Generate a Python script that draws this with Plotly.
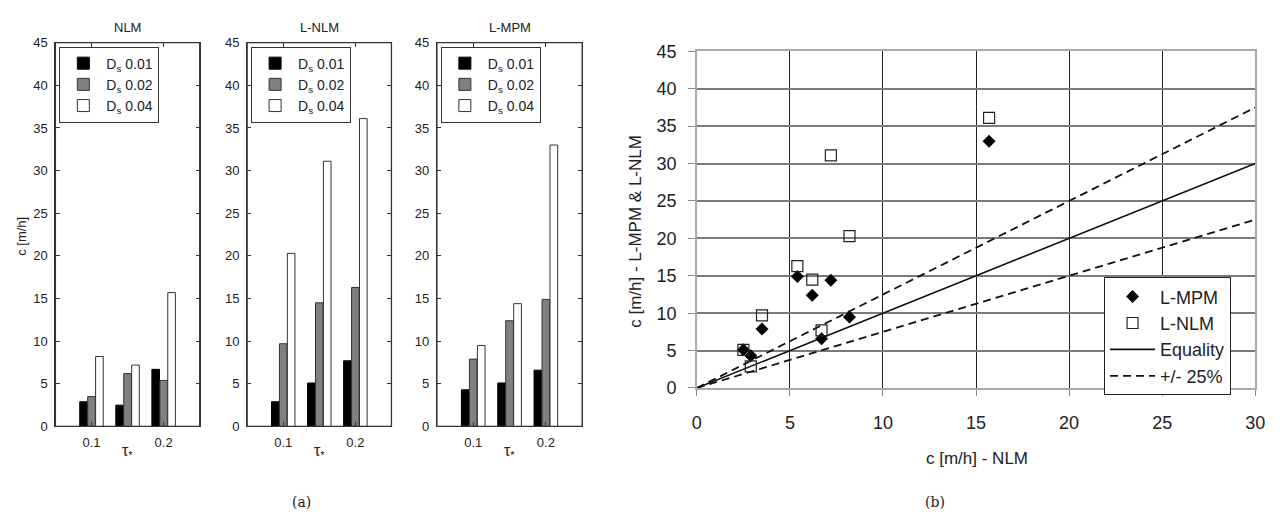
import plotly.graph_objects as go

# Shear stress groups and bar values per model (c in m/h)
tau = [0.1, 0.15, 0.2]
ds_labels = ["D<sub>s</sub> 0.01", "D<sub>s</sub> 0.02", "D<sub>s</sub> 0.04"]

nlm_001 = [2.9, 2.5, 6.7]
nlm_002 = [3.5, 6.2, 5.4]
nlm_004 = [8.2, 7.2, 15.7]

lnlm_001 = [2.9, 5.1, 7.7]
lnlm_002 = [9.7, 14.5, 16.3]
lnlm_004 = [20.3, 31.1, 36.1]

lmpm_001 = [4.3, 5.1, 6.6]
lmpm_002 = [7.9, 12.4, 14.9]
lmpm_004 = [9.5, 14.4, 33.0]

panel_titles = ["NLM", "L-NLM", "L-MPM"]
y_ticks = [0, 5, 10, 15, 20, 25, 30, 35, 40, 45]
x_ticks_b = [0, 5, 10, 15, 20, 25, 30]
ref_x = [0, 30]

W, H = 1287, 524
def px(x):
    return x / W
def py(y):
    return 1 - y / H

FAM = "Liberation Sans"
TXT = "#222"
bar_fill = ["#000000", "#808080", "#ffffff"]
bar_line = ["#000000", "#333333", "#333333"]

panels = [
    (nlm_001, nlm_002, nlm_004),
    (lnlm_001, lnlm_002, lnlm_004),
    (lmpm_001, lmpm_002, lmpm_004),
]
panel_px = [(51, 197), (245, 391), (437, 584)]

fig = go.Figure()
font_l = dict(family=FAM, size=13, color=TXT)
font_r = dict(family=FAM, size=18, color=TXT)

def note(text, x, y, size, angle=0, family=FAM):
    fig.add_annotation(text=text, x=px(x), y=py(y), xref="paper", yref="paper",
                       xanchor="center", yanchor="middle",
                       showarrow=False, textangle=angle,
                       font=dict(family=family, size=size, color=TXT))

legend_names = ["legend", "legend2", "legend3"]
for i, series in enumerate(panels):
    ax = "" if i == 0 else str(i + 1)
    for j, vals in enumerate(series):
        fig.add_trace(go.Bar(
            x=tau, y=vals, name=ds_labels[j],
            marker=dict(color=bar_fill[j], line=dict(color=bar_line[j], width=1)),
            xaxis="x" + ax, yaxis="y" + ax, legend=legend_names[i],
            offsetgroup=str(j),
        ))
    x0, x1 = panel_px[i]
    fig.update_layout(**{
        "xaxis" + ax: dict(
            domain=[px(x0), px(x1)], range=[0.05, 0.25], tickvals=[0.1, 0.2],
            ticktext=["0.1", "0.2"], ticks="inside", ticklen=4, tickcolor="#333",
            showline=True, linecolor="#333", linewidth=1.3, mirror="ticks",
            showgrid=False, zeroline=False, tickfont=font_l, anchor="y" + ax,
            ticklabelstandoff=4,
        ),
        "yaxis" + ax: dict(
            domain=[py(433), py(34)], range=[0, 45], tickvals=y_ticks,
            ticks="inside", ticklen=4, tickcolor="#333",
            showline=True, linecolor="#333", linewidth=1.3, mirror="ticks",
            showgrid=False, zeroline=False, tickfont=font_l, anchor="x" + ax,
            ticklabelstandoff=4,
        ),
        legend_names[i]: dict(
            x=px(x0 + 4), y=py(38), xanchor="left", yanchor="top",
            bgcolor="white", bordercolor="#333", borderwidth=1,
            font=dict(family=FAM, size=14, color=TXT),
            traceorder="normal", itemwidth=36, tracegroupgap=0,
        ),
    })
    # frame around each bar panel
    fig.add_shape(type="rect", xref="x" + ax + " domain", yref="y" + ax + " domain",
                  x0=0, x1=1, y0=0, y1=1, line=dict(color="#333", width=1.3),
                  layer="above")
    note(panel_titles[i], (x0 + x1) / 2, 18, 13)
    note("τ<sub>*</sub>", (x0 + x1) / 2, 459, 16)

note("c [m/h]", 16, 235, 13, angle=-90)

# Comparison panel: NLM on x, linearised models on y
nlm_all = nlm_001 + nlm_002 + nlm_004
lmpm_all = lmpm_001 + lmpm_002 + lmpm_004
lnlm_all = lnlm_001 + lnlm_002 + lnlm_004

dash_style = dict(color="#111", width=1.8, dash="8px,5px")
fig.add_trace(go.Scatter(
    x=ref_x, y=[v * 1.25 for v in ref_x], mode="lines", name="+/- 25%",
    line=dash_style, xaxis="x4", yaxis="y4", legend="legend4", showlegend=False,
))
fig.add_trace(go.Scatter(
    x=ref_x, y=[v * 0.75 for v in ref_x], mode="lines", name="+/- 25%",
    line=dash_style, xaxis="x4", yaxis="y4", legend="legend4", showlegend=False,
))
fig.add_trace(go.Scatter(
    x=ref_x, y=ref_x, mode="lines", name="Equality",
    line=dict(color="#111", width=1.6),
    xaxis="x4", yaxis="y4", legend="legend4", showlegend=False,
))
fig.add_trace(go.Scatter(
    x=nlm_all, y=lmpm_all, mode="markers", name="L-MPM",
    marker=dict(symbol="diamond", color="black", size=10),
    xaxis="x4", yaxis="y4", legend="legend4",
))
fig.add_trace(go.Scatter(
    x=nlm_all, y=lnlm_all, mode="markers", name="L-NLM",
    marker=dict(symbol="square-open", color="#222", size=11, line=dict(width=1.2)),
    xaxis="x4", yaxis="y4", legend="legend4",
))
# legend-only entries for the reference lines
fig.add_trace(go.Scatter(
    x=[None], y=[None], mode="lines", name="Equality",
    line=dict(color="#111", width=1.6), xaxis="x4", yaxis="y4", legend="legend4",
))
fig.add_trace(go.Scatter(
    x=[None], y=[None], mode="lines", name="+/- 25%",
    line=dash_style, xaxis="x4", yaxis="y4", legend="legend4",
))

fig.update_layout(
    xaxis4=dict(
        domain=[px(700), px(1265)], range=[0, 30], tickvals=x_ticks_b,
        showgrid=True, gridcolor="#222", gridwidth=1.3,
        showline=True, linecolor="#aaa", linewidth=1.5, mirror=True,
        ticks="outside", ticklen=6, tickcolor="#888", zeroline=False,
        tickfont=font_r, anchor="y4", ticklabelstandoff=12,
    ),
    yaxis4=dict(
        domain=[py(393), py(43)], range=[0, 45], tickvals=y_ticks,
        showgrid=True, gridcolor="#7a7a7a", gridwidth=1.6,
        showline=True, linecolor="#aaa", linewidth=1.5, mirror=True,
        ticks="outside", ticklen=7, tickcolor="#888", zeroline=False,
        tickfont=font_r, anchor="x4", ticklabelstandoff=8,
    ),
    legend4=dict(
        x=px(1112), y=py(278), xanchor="left", yanchor="top",
        bgcolor="white", bordercolor="#222", borderwidth=1,
        font=dict(family=FAM, size=18, color=TXT),
        traceorder="normal", itemwidth=45, tracegroupgap=0,
    ),
)

note("c [m/h] - NLM", 983, 466, 17)
note("c [m/h] - L-MPM & L-NLM", 638, 230, 17, angle=-90)

note("(a)", 300, 512, 14, family="DejaVu Serif")
note("(b)", 941, 512, 14, family="DejaVu Serif")

fig.update_layout(
    width=W, height=H, margin=dict(l=0, r=0, t=0, b=0),
    paper_bgcolor="white", plot_bgcolor="white",
    barmode="group", bargap=0.34, bargroupgap=0.04,
    showlegend=True,
)

fig.write_html("out.html")
